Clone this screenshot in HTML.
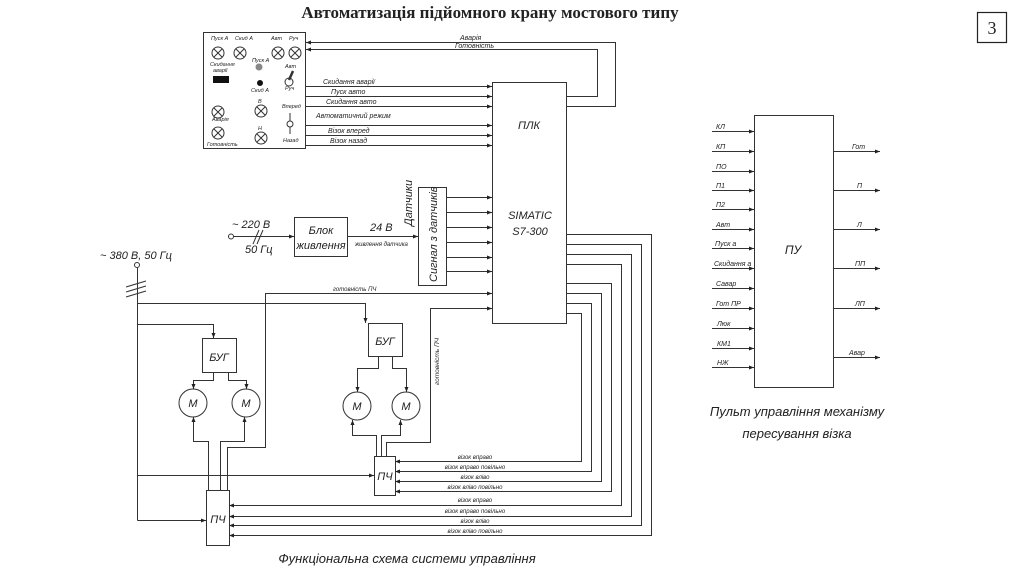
<!DOCTYPE html>
<html><head><meta charset="utf-8"><style>
html,body{margin:0;padding:0;background:#fff;}
svg{display:block;}
text{font-family:"Liberation Sans",sans-serif;font-style:italic;fill:#222;}
</style></head><body>
<svg width="1024" height="574" viewBox="0 0 1024 574" xmlns="http://www.w3.org/2000/svg">
<defs>
<marker id="a" markerWidth="6" markerHeight="6" refX="5" refY="3" orient="auto" markerUnits="userSpaceOnUse"><path d="M0,1 L5,3 L0,5z" fill="#222"/></marker>
</defs>
<text x="490" y="18" text-anchor="middle" style="font-family:'Liberation Serif',serif;font-style:normal;font-weight:bold;font-size:17px">Автоматизація підйомного крану мостового типу</text>
<rect x="977.5" y="12.5" width="29" height="30" fill="none" stroke="#222" stroke-width="1.2"/>
<text x="992" y="34" text-anchor="middle" style="font-family:'Liberation Serif',serif;font-style:normal;font-size:18px">3</text>

<g fill="none" stroke="#333" stroke-width="1">
<!-- panel -->
<rect x="203.5" y="32.5" width="102" height="116"/>
<!-- PLC -->
<rect x="492.5" y="82.5" width="74" height="241"/>
<!-- PU -->
<rect x="754.5" y="115.5" width="79" height="272"/>
<!-- power block -->
<rect x="294.5" y="217.5" width="53" height="39"/>
<!-- sensor box -->
<rect x="418.5" y="187.5" width="28" height="98"/>
<!-- BUG -->
<rect x="202.5" y="338.5" width="34" height="34"/>
<rect x="368.5" y="323.5" width="34" height="33"/>
<!-- PCH -->
<rect x="206.5" y="490.5" width="23" height="55"/>
<rect x="374.5" y="456.5" width="21" height="39"/>
<!-- motors -->
<circle cx="193" cy="403" r="14"/><circle cx="246" cy="403" r="14"/>
<circle cx="357" cy="406" r="14"/><circle cx="406" cy="406" r="14"/>

<!-- panel to PLC inputs -->
<g marker-end="url(#a)">
<line x1="305" y1="86.5" x2="492" y2="86.5"/>
<line x1="305" y1="96.5" x2="492" y2="96.5"/>
<line x1="305" y1="106.5" x2="492" y2="106.5"/>
<line x1="305" y1="125.5" x2="492" y2="125.5"/>
<line x1="305" y1="135.5" x2="492" y2="135.5"/>
<line x1="305" y1="145.5" x2="492" y2="145.5"/>
<polyline points="566,106.5 615.5,106.5 615.5,42.5 306,42.5"/>
<polyline points="566,96.5 597.5,96.5 597.5,49.5 306,49.5"/>
<!-- sensors -->
<line x1="446" y1="197.5" x2="492" y2="197.5"/>
<line x1="446" y1="212.5" x2="492" y2="212.5"/>
<line x1="446" y1="227.5" x2="492" y2="227.5"/>
<line x1="446" y1="242.5" x2="492" y2="242.5"/>
<line x1="446" y1="257.5" x2="492" y2="257.5"/>
<line x1="446" y1="271.5" x2="492" y2="271.5"/>
<line x1="234" y1="236.5" x2="294" y2="236.5"/>
<line x1="347" y1="236.5" x2="418" y2="236.5"/>
<!-- 380 feed -->
<polyline points="137.5,303.5 365.5,303.5 365.5,323"/>
<polyline points="137.5,324.5 213.5,324.5 213.5,338"/>
<polyline points="137.5,475.5 374,475.5"/>
<polyline points="137.5,520.5 206,520.5"/>
<!-- готовність ПЧ -->
<polyline points="227.5,490 227.5,447.5 265.5,447.5 265.5,293.5 492,293.5"/>
<polyline points="386.5,456 386.5,442.5 430.5,442.5 430.5,308.5 492,308.5"/>
<!-- BUG to motors -->
<polyline points="213.5,372 213.5,380.5 193.5,380.5 193.5,389"/>
<polyline points="228.5,372 228.5,380.5 246.5,380.5 246.5,389"/>
<polyline points="378.5,356 378.5,368.5 357.5,368.5 357.5,392"/>
<polyline points="392.5,356 392.5,368.5 406.5,368.5 406.5,392"/>
<!-- PCH to motors -->
<polyline points="208.5,490 208.5,441.5 193.5,441.5 193.5,417"/>
<polyline points="220.5,490 220.5,441.5 244.5,441.5 244.5,417"/>
<polyline points="376.5,456 376.5,435.5 352.5,435.5 352.5,420"/>
<polyline points="381.5,456 381.5,435.5 400.5,435.5 400.5,420"/>
<!-- PLC outputs to lower PCH -->
<polyline points="566,234.5 651.5,234.5 651.5,535.5 229,535.5"/>
<polyline points="566,244.5 641.5,244.5 641.5,525.5 229,525.5"/>
<polyline points="566,254.5 631.5,254.5 631.5,516.5 229,516.5"/>
<polyline points="566,264.5 621.5,264.5 621.5,505.5 229,505.5"/>
<!-- PLC outputs to upper PCH -->
<polyline points="566,283.5 611.5,283.5 611.5,491.5 395,491.5"/>
<polyline points="566,293.5 601.5,293.5 601.5,481.5 395,481.5"/>
<polyline points="566,303.5 591.5,303.5 591.5,471.5 395,471.5"/>
<polyline points="566,313.5 581.5,313.5 581.5,461.5 395,461.5"/>
<!-- PU inputs -->
<line x1="712" y1="131.5" x2="754" y2="131.5"/>
<line x1="712" y1="151.5" x2="754" y2="151.5"/>
<line x1="712" y1="171.5" x2="754" y2="171.5"/>
<line x1="712" y1="190.5" x2="754" y2="190.5"/>
<line x1="712" y1="209.5" x2="754" y2="209.5"/>
<line x1="712" y1="229.5" x2="754" y2="229.5"/>
<line x1="712" y1="248.5" x2="754" y2="248.5"/>
<line x1="712" y1="268.5" x2="754" y2="268.5"/>
<line x1="712" y1="288.5" x2="754" y2="288.5"/>
<line x1="712" y1="308.5" x2="754" y2="308.5"/>
<line x1="712" y1="328.5" x2="754" y2="328.5"/>
<line x1="712" y1="348.5" x2="754" y2="348.5"/>
<line x1="712" y1="367.5" x2="754" y2="367.5"/>
<line x1="833" y1="151.5" x2="880" y2="151.5"/>
<line x1="833" y1="190.5" x2="880" y2="190.5"/>
<line x1="833" y1="229.5" x2="880" y2="229.5"/>
<line x1="833" y1="268.5" x2="880" y2="268.5"/>
<line x1="833" y1="308.5" x2="880" y2="308.5"/>
<line x1="833" y1="357.5" x2="880" y2="357.5"/>
</g>
<line x1="137.5" y1="268" x2="137.5" y2="520.5"/>
<circle cx="137" cy="265" r="2.5" fill="#fff"/>
<circle cx="231" cy="236.5" r="2.5" fill="#fff"/>
<line x1="126" y1="287" x2="146" y2="281"/><line x1="126" y1="292" x2="146" y2="286"/><line x1="126" y1="297" x2="146" y2="291"/>
<line x1="253" y1="244" x2="259" y2="230"/><line x1="257" y1="244" x2="263" y2="230"/>

<!-- panel icons -->
<g>
<circle cx="218" cy="53" r="6"/><path d="M214,49 l8,8 M222,49 l-8,8"/>
<circle cx="240" cy="53" r="6"/><path d="M236,49 l8,8 M244,49 l-8,8"/>
<circle cx="278" cy="53" r="6"/><path d="M274,49 l8,8 M282,49 l-8,8"/>
<circle cx="295" cy="53" r="6"/><path d="M291,49 l8,8 M299,49 l-8,8"/>
<circle cx="218" cy="112" r="6"/><path d="M214,108 l8,8 M222,108 l-8,8"/>
<circle cx="218" cy="133" r="6"/><path d="M214,129 l8,8 M222,129 l-8,8"/>
<circle cx="261" cy="111" r="6"/><path d="M257,107 l8,8 M265,107 l-8,8"/>
<circle cx="261" cy="138" r="6"/><path d="M257,134 l8,8 M265,134 l-8,8"/>
<circle cx="289" cy="82" r="4"/><line x1="289" y1="80" x2="293" y2="71" stroke-width="2.5"/>
<circle cx="290" cy="124" r="3"/><line x1="290" y1="113" x2="290" y2="121"/><line x1="290" y1="127" x2="290" y2="134"/>
</g>
</g>
<circle cx="259" cy="67" r="3.5" fill="#888"/>
<circle cx="260" cy="83" r="3" fill="#111"/>
<rect x="213" y="76" width="16" height="7" fill="#111"/>

<g style="font-size:5.5px">
<text x="211" y="40">Пуск А</text><text x="235" y="40">Скид А</text><text x="271" y="40">Авт</text><text x="289" y="40">Руч</text>
<text x="210" y="66">Скидання</text><text x="213" y="72">аварії</text>
<text x="252" y="62">Пуск А</text><text x="251" y="92">Скид А</text>
<text x="285" y="68">Авт</text><text x="285" y="90">Руч</text>
<text x="258" y="103">В</text><text x="258" y="130">Н</text>
<text x="282" y="108">Вперед</text><text x="283" y="142">Назад</text>
<text x="212" y="121">Аварія</text><text x="207" y="146">Готовність</text>
</g>
<g style="font-size:7px">
<text x="460" y="40">Аварія</text><text x="455" y="48">Готовність</text>
<text x="323" y="84">Скидання аварії</text><text x="331" y="94">Пуск авто</text><text x="326" y="104">Скидання авто</text>
<text x="316" y="118">Автоматичний режим</text><text x="328" y="133">Візок вперед</text><text x="330" y="143">Візок назад</text>
<text x="333" y="291" style="font-size:6px">готовність ПЧ</text>
<text x="355" y="246" style="font-size:6px">живлення датчика</text>
</g>
<g style="font-size:6px" text-anchor="middle">
<text x="475" y="459">візок вправо</text><text x="475" y="469">візок вправо повільно</text>
<text x="475" y="479">візок вліво</text><text x="475" y="489">візок вліво повільно</text>
<text x="475" y="502">візок вправо</text><text x="475" y="513">візок вправо повільно</text>
<text x="475" y="523">візок вліво</text><text x="475" y="533">візок вліво повільно</text>
</g>
<text transform="translate(439,385) rotate(-90)" style="font-size:6.5px">готовність ПЧ</text>
<text transform="translate(412,226) rotate(-90)" style="font-size:11px">Датчики</text>
<text transform="translate(437,282) rotate(-90)" style="font-size:11px">Сигнал з датчиків</text>

<g style="font-size:11px" text-anchor="middle">
<text x="321" y="234">Блок</text><text x="321" y="249">живлення</text>
<text x="529" y="129">ПЛК</text>
<text x="530" y="219">SIMATIC</text><text x="530" y="235">S7-300</text>
<text x="219" y="361">БУГ</text><text x="385" y="345">БУГ</text>
<text x="193" y="407">M</text><text x="246" y="407">M</text>
<text x="357" y="410">M</text><text x="406" y="410">M</text>
<text x="218" y="523">ПЧ</text><text x="385" y="480">ПЧ</text>
<text x="793" y="254" style="font-size:12px">ПУ</text>
</g>
<text x="232" y="228" style="font-size:11px">~ 220 В</text>
<text x="245" y="253" style="font-size:11px">50 Гц</text>
<text x="370" y="231" style="font-size:11px">24 В</text>
<text x="100" y="259" style="font-size:11px">~ 380 В, 50 Гц</text>

<g style="font-size:7px">
<text x="716" y="129">КЛ</text><text x="716" y="149">КП</text><text x="716" y="169">ПО</text>
<text x="716" y="188">П1</text><text x="716" y="207">П2</text><text x="716" y="227">Авт</text>
<text x="715" y="246">Пуск а</text><text x="714" y="266">Скидання а</text><text x="716" y="286">Савар</text>
<text x="716" y="306">Гот ПР</text><text x="717" y="326">Люк</text><text x="717" y="346">КМ1</text><text x="717" y="365">НЖ</text>
<text x="852" y="149">Гот</text><text x="857" y="188">П</text><text x="857" y="227">Л</text>
<text x="855" y="266">ПП</text><text x="855" y="306">ЛП</text><text x="849" y="355">Авар</text>
</g>
<text x="797" y="416" text-anchor="middle" style="font-size:13px">Пульт управління механізму</text>
<text x="797" y="438" text-anchor="middle" style="font-size:13px">пересування візка</text>
<text x="407" y="563" text-anchor="middle" style="font-size:13px">Функціональна схема системи управління</text>
</svg>
</body></html>
